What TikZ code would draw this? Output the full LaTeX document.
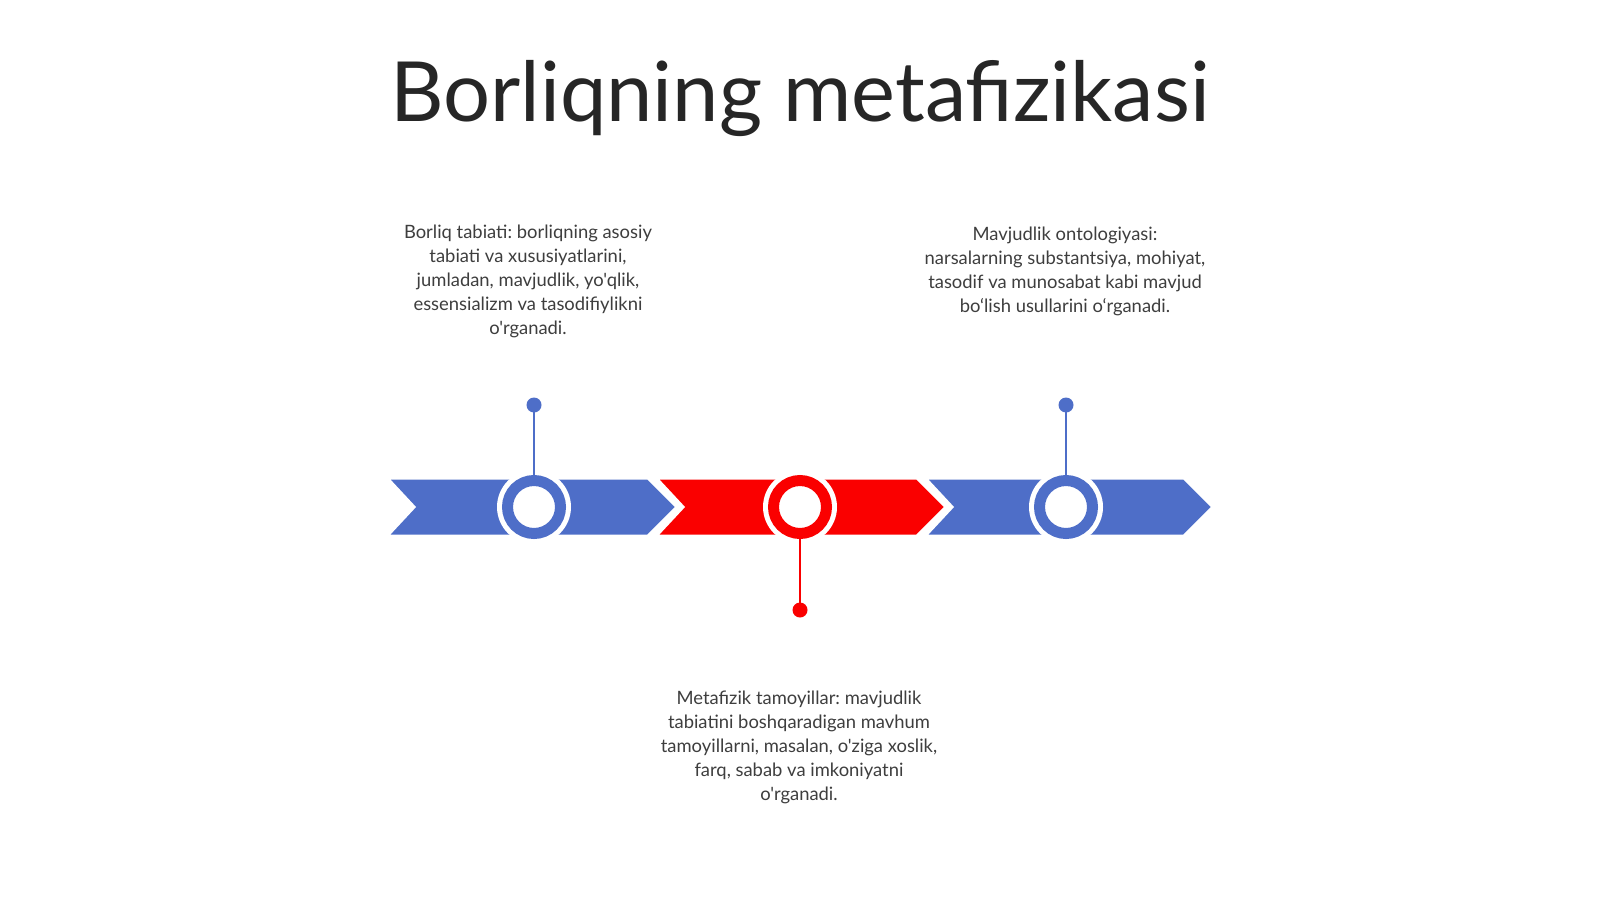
\documentclass[tikz,border=0pt]{standalone}
\usepackage{fontspec}
\newfontfamily\lato{Lato}
\definecolor{tblue}{RGB}{78,110,200}
\definecolor{tred}{RGB}{250,0,0}
\definecolor{ttext}{RGB}{62,62,62}
\definecolor{ttitle}{RGB}{38,38,38}
\begin{document}
\frenchspacing
\begin{tikzpicture}[x=1pt,y=-1pt,
  chev/.style={fill=#1, draw=white, line width=3pt, line join=miter},
  halo/.style={circle, fill=white, minimum size=74pt, inner sep=0pt},
  ring/.style={circle, draw=#1, line width=11pt, fill=white, minimum size=53pt, inner sep=0pt},
  pin/.style={circle, fill=#1, minimum size=15pt, inner sep=0pt},
  stem/.style={draw=#1, line width=2.5pt},
  body/.style={font=\lato\fontsize{18.4}{24}\selectfont, text=ttext, align=center, inner sep=0pt}]
\useasboundingbox (0,0) rectangle (1600,899);
\fill[white] (0,0) rectangle (1600,899);

\node[font=\lato\fontsize{83}{100}\selectfont, text=ttitle, anchor=base] (title) at (800,121) {Borliqning metafizikasi};

% chevrons
\filldraw[chev=tblue] (387,478) -- (648,478) -- (677,507) -- (648,536) -- (387,536) -- (414,507) -- cycle;
\filldraw[chev=tred] (656,478) -- (917,478) -- (946,507) -- (917,536) -- (656,536) -- (683,507) -- cycle;
\filldraw[chev=tblue] (925,478) -- (1184,478) -- (1213,507) -- (1184,536) -- (925,536) -- (952,507) -- cycle;

% halos and rings
\node[halo] (h1) at (534,507) {};
\node[halo] (h2) at (800,507) {};
\node[halo] (h3) at (1066,507) {};
\node[ring=tblue] (c1) at (534,507) {};
\node[ring=tred] (c2) at (800,507) {};
\node[ring=tblue] (c3) at (1066,507) {};

% pins
\node[pin=tblue] (d1) at (534,405) {};
\node[pin=tred] (d2) at (800,610) {};
\node[pin=tblue] (d3) at (1066,405) {};
\draw[stem=tblue] (d1.center) -- (c1.north);
\draw[stem=tred] (d2.center) -- (c2.south);
\draw[stem=tblue] (d3.center) -- (c3.north);

% texts
\node[body] (t1) at (528,281) {Borliq tabiati: borliqning asosiy\\tabiati va xususiyatlarini,\\jumladan, mavjudlik, yo'qlik,\\essensializm va tasodifiylikni\\o'rganadi.};
\node[body] (t2) at (1065,271) {Mavjudlik ontologiyasi:\\narsalarning substantsiya, mohiyat,\\tasodif va munosabat kabi mavjud\\bo‘lish usullarini o‘rganadi.};
\node[body] (t3) at (799,747) {Metafizik tamoyillar: mavjudlik\\tabiatini boshqaradigan mavhum\\tamoyillarni, masalan, o'ziga xoslik,\\farq, sabab va imkoniyatni\\o'rganadi.};
\end{tikzpicture}
\end{document}
